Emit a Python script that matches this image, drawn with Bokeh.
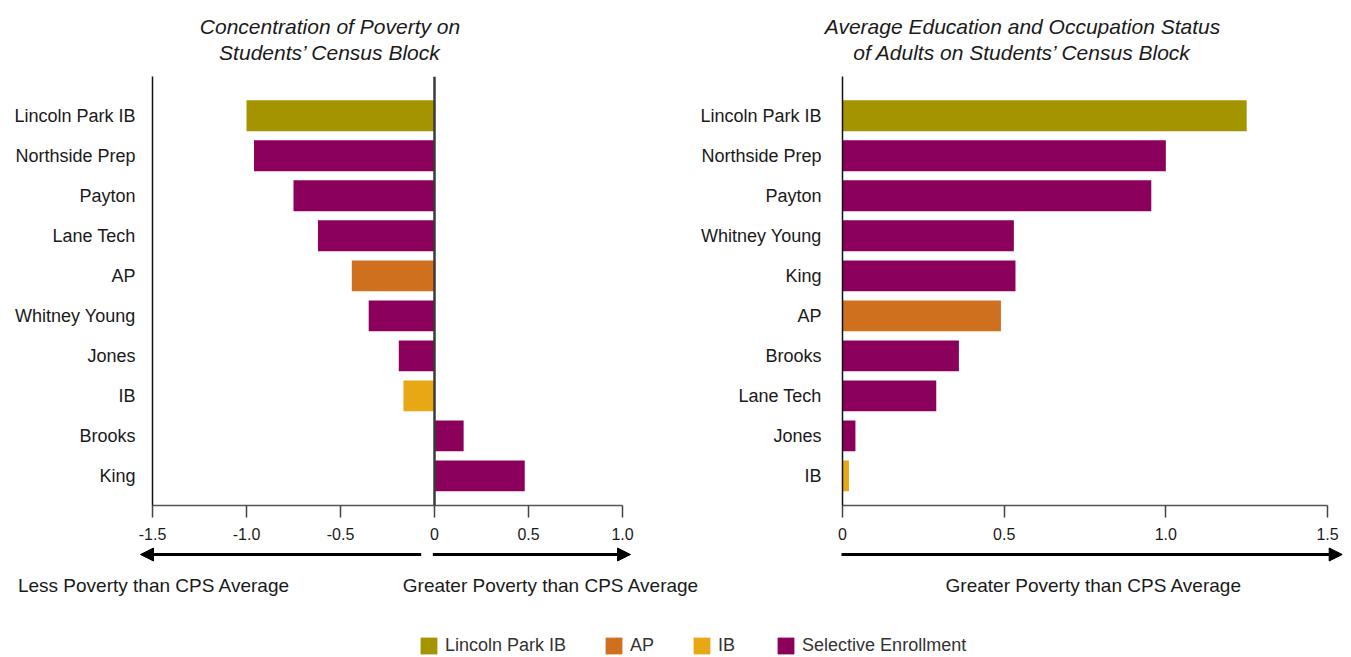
from bokeh.plotting import figure
from bokeh.models import (ColumnDataSource, Range1d, FixedTicker, Span, Label,
                          Arrow, NormalHead, Legend, LegendItem)
from bokeh.layouts import column, row
from bokeh.transform import factor_cmap
from bokeh.embed import file_html
from bokeh.resources import INLINE

# ---------------- data ----------------
groups = ["Lincoln Park IB", "AP", "IB", "Selective Enrollment"]
group_colors = ["#A39400", "#CE701E", "#E8A815", "#8B005A"]

poverty_schools = ["Lincoln Park IB", "Northside Prep", "Payton", "Lane Tech", "AP",
                   "Whitney Young", "Jones", "IB", "Brooks", "King"]
poverty_groups = ["Lincoln Park IB", "Selective Enrollment", "Selective Enrollment",
                  "Selective Enrollment", "AP", "Selective Enrollment",
                  "Selective Enrollment", "IB", "Selective Enrollment", "Selective Enrollment"]
poverty_values = [-1.0, -0.96, -0.75, -0.62, -0.44, -0.35, -0.19, -0.165, 0.155, 0.48]

status_schools = ["Lincoln Park IB", "Northside Prep", "Payton", "Whitney Young", "King",
                  "AP", "Brooks", "Lane Tech", "Jones", "IB"]
status_groups = ["Lincoln Park IB", "Selective Enrollment", "Selective Enrollment",
                 "Selective Enrollment", "Selective Enrollment", "AP",
                 "Selective Enrollment", "Selective Enrollment", "Selective Enrollment", "IB"]
status_values = [1.25, 1.0, 0.955, 0.53, 0.535, 0.49, 0.36, 0.29, 0.04, 0.02]

poverty_ticks = [-1.5, -1.0, -0.5, 0, 0.5, 1.0]
poverty_tick_labels = ["-1.5", "-1.0", "-0.5", "0", "0.5", "1.0"]
status_ticks = [0, 0.5, 1.0, 1.5]
status_tick_labels = ["0", "0.5", "1.0", "1.5"]

poverty_title = ["Concentration of Poverty on", "Students\u2019 Census Block"]
status_title = ["Average Education and Occupation Status",
                "of Adults on Students\u2019 Census Block"]
less_text = "Less Poverty than CPS Average"
greater_text = "Greater Poverty than CPS Average"

FONT = "Liberation Sans"
TXT = "#1a1a1a"
W = 1350


def strip(height):
    p = figure(width=W, height=height, x_range=Range1d(0, W), y_range=Range1d(0, height),
               x_axis_type=None, y_axis_type=None, output_backend="svg",
               toolbar_location=None, min_border=0, outline_line_color=None)
    p.min_border_left = p.min_border_right = p.min_border_top = p.min_border_bottom = 0
    p.background_fill_color = "white"
    p.border_fill_color = "white"
    return p


def make_panel(schools, grps, vals, xr, ticks, tick_labels, frame_w,
               b_left, b_right, y_standoff):
    n = len(schools)
    src = ColumnDataSource(dict(pos=list(range(n)), value=vals, group=grps, school=schools))
    p = figure(frame_width=frame_w, frame_height=429,
               x_range=Range1d(*xr), y_range=Range1d(n - 0.26, -0.98),
               output_backend="svg", toolbar_location=None,
               min_border_left=b_left, min_border_right=b_right,
               min_border_top=0, min_border_bottom=40)
    p.hbar(y="pos", left=0, right="value", height=0.77, source=src,
           fill_color=factor_cmap("group", group_colors, groups), line_color=None)
    p.xgrid.visible = False
    p.ygrid.visible = False
    p.outline_line_color = None
    p.background_fill_color = "white"
    p.border_fill_color = "white"

    xa = p.xaxis[0]
    xa.ticker = FixedTicker(ticks=ticks)
    xa.major_label_overrides = {t: l for t, l in zip(ticks, tick_labels)}
    xa.major_tick_out = 12
    xa.major_tick_in = 0
    xa.minor_tick_line_color = None
    xa.axis_line_color = "#555555"
    xa.axis_line_width = 1.5
    xa.major_tick_line_color = "#444444"
    xa.major_tick_line_width = 1.5
    xa.major_label_text_font = FONT
    xa.major_label_text_font_size = "16px"
    xa.major_label_text_color = TXT
    xa.major_label_standoff = 10

    ya = p.yaxis[0]
    ya.ticker = FixedTicker(ticks=list(range(n)))
    ya.major_label_overrides = {i: s for i, s in enumerate(schools)}
    ya.major_tick_out = 0
    ya.major_tick_in = 0
    ya.minor_tick_line_color = None
    ya.axis_line_color = "#111111"
    ya.axis_line_width = 1.5
    ya.major_label_text_font = FONT
    ya.major_label_text_font_size = "18px"
    ya.major_label_text_color = TXT
    ya.major_label_standoff = y_standoff
    return p


def add_label(p, x, y, text, size="19px", style="normal", align="center"):
    p.add_layout(Label(x=x, y=y, x_units="screen", y_units="screen", text=text,
                       text_align=align, text_baseline="alphabetic",
                       text_font=FONT, text_font_size=size, text_font_style=style,
                       text_color=TXT))


def add_arrow(p, x0, x1, y):
    p.add_layout(Arrow(end=NormalHead(size=13, fill_color="black", line_color="black",
                                      line_width=1),
                       x_start=x0, y_start=y, x_end=x1, y_end=y,
                       start_units="screen", end_units="screen",
                       line_width=3, line_color="black"))


# ---------------- title strip (page y 0..76) ----------------
pt = strip(76)
add_label(pt, 329.5, 50.5, poverty_title[0], size="21px", style="italic")
add_label(pt, 329.5, 24.5, poverty_title[1], size="21px", style="italic")
add_label(pt, 1022, 50.5, status_title[0], size="21px", style="italic")
add_label(pt, 1022, 24.5, status_title[1], size="21px", style="italic")

# ---------------- panels (page y 76..545) ----------------
pa = make_panel(poverty_schools, poverty_groups, poverty_values, (-1.5, 1.0),
                poverty_ticks, poverty_tick_labels, 470, 152, 58, 17)
pa.add_layout(Span(location=0, dimension="height", line_color="#3a3a3a", line_width=2.5))

pb = make_panel(status_schools, status_groups, status_values, (0, 1.5),
                status_ticks, status_tick_labels, 485, 162, 23, 21)

# ---------------- bottom strip (page y 545..656) ----------------
H = 111
pd_ = strip(H)
add_arrow(pd_, 420.7, 140, H - 9)
add_arrow(pd_, 432.3, 630, H - 9)
add_arrow(pd_, 841, 1341.7, H - 9)
add_label(pd_, 153.5, H - 40, less_text)
add_label(pd_, 550.5, H - 40, greater_text)
add_label(pd_, 1093.3, H - 40, greater_text)

items = []
for g, c in zip(groups, group_colors):
    r = pd_.quad(left=[-100], right=[-90], top=[-100], bottom=[-90],
                 fill_color=c, line_color=None)
    items.append(LegendItem(label=g, renderers=[r]))
legend = Legend(items=items, location=(418, 0), orientation="horizontal",
                glyph_width=21, glyph_height=21, label_standoff=6, spacing=37,
                padding=0, margin=0, border_line_color=None, background_fill_alpha=0,
                label_text_font=FONT, label_text_font_size="18px",
                label_text_color="#333333")
pd_.add_layout(legend)

layout = column(pt, row(pa, pb), pd_)
open("out.html", "w").write(file_html(layout, INLINE))
